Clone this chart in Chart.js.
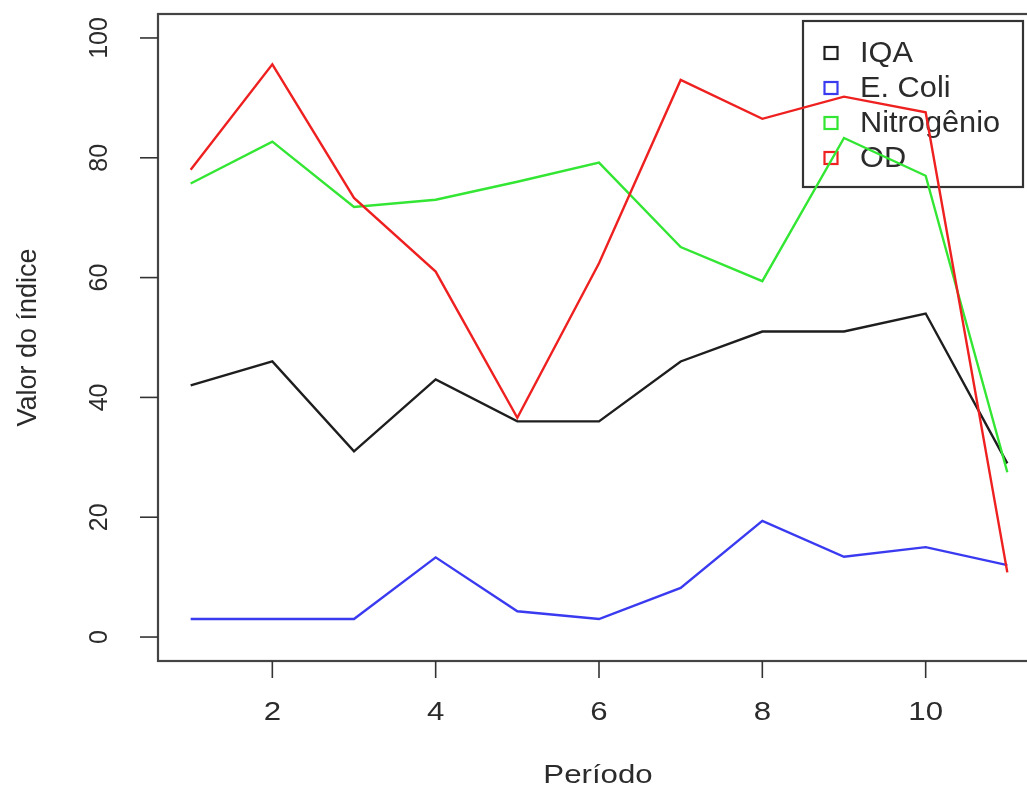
<!DOCTYPE html>
<html>
<head>
<meta charset="utf-8">
<script src="https://cdn.jsdelivr.net/npm/chart.js@4.4.1/dist/chart.umd.min.js"></script>
<style>
  html, body { margin: 0; padding: 0; background: #fff; overflow: hidden; }
  #wrap { position: relative; width: 1045px; height: 792px; }
</style>
</head>
<body>
<div id="wrap"><canvas id="c" width="1045" height="792"></canvas></div>
<script>
// Water-quality indices per period
const periods    = [1, 2, 3, 4, 5, 6, 7, 8, 9, 10, 11];
const iqa        = [42, 46, 31, 43, 36, 36, 46, 51, 51, 54, 29];
const ecoli      = [3, 3, 3, 13.3, 4.3, 3, 8.2, 19.4, 13.4, 15, 12];
const nitrogenio = [75.7, 82.7, 71.8, 73, 76, 79.2, 65.1, 59.4, 83.3, 77, 27.5];
const od         = [78, 95.6, 73.3, 61, 36.6, 62.4, 93, 86.5, 90.2, 87.6, 10.8];

const seriesNames  = ['IQA', 'E. Coli', 'Nitrogênio', 'OD'];
const seriesColors = ['#1e1e1e', '#3a3af0', '#33e633', '#ee2020'];
const xTicks = [2, 4, 6, 8, 10];
const yTicks = [0, 20, 40, 60, 80, 100];
const xTitle = 'Período';
const yTitle = 'Valor do índice';

const seriesValues = [iqa, ecoli, nitrogenio, od];
const datasets = seriesValues.map((vals, i) => ({
  label: seriesNames[i],
  data: periods.map((p, j) => ({ x: p, y: vals[j] })),
  borderColor: seriesColors[i],
  backgroundColor: seriesColors[i],
  borderWidth: 2.4,
  pointRadius: 0,
  tension: 0,
  fill: false,
  order: seriesValues.length - i
}));

const FONT = '"Liberation Sans", Arial, sans-serif';
const TEXT = '#2b2b2b';

function stretchedText(ctx, txt, x, y, sx) {
  ctx.save();
  ctx.translate(x, y);
  ctx.scale(sx, 1);
  ctx.fillText(txt, 0, 0);
  ctx.restore();
}

// Base-graphics style frame, ticks, titles and legend
const basePlot = {
  id: 'basePlot',
  beforeDatasetsDraw(chart) {
    const ctx = chart.ctx;
    ctx.save();
    // legend box (transparent, lines pass over it)
    ctx.strokeStyle = '#333';
    ctx.lineWidth = 2.2;
    ctx.strokeRect(803, 21, 220, 166);
    ctx.font = '29px ' + FONT;
    ctx.textBaseline = 'middle';
    ctx.textAlign = 'left';
    seriesNames.forEach((name, i) => {
      const cy = 53 + i * 35;
      ctx.strokeStyle = seriesColors[i];
      ctx.lineWidth = 2.2;
      ctx.strokeRect(824.5, cy - 6, 13, 12);
      ctx.fillStyle = TEXT;
      stretchedText(ctx, name, 860, cy + 1, 1.06);
    });
    ctx.restore();
  },
  afterDraw(chart) {
    const ctx = chart.ctx;
    const a = chart.chartArea;
    const xs = chart.scales.x, ys = chart.scales.y;
    ctx.save();
    ctx.strokeStyle = '#444';
    ctx.lineWidth = 2.2;
    ctx.strokeRect(a.left, a.top, a.right - a.left, a.bottom - a.top);

    ctx.fillStyle = TEXT;
    ctx.lineWidth = 1.6;
    ctx.strokeStyle = '#333';
    // x axis
    ctx.font = '26px ' + FONT;
    ctx.textAlign = 'center';
    ctx.textBaseline = 'middle';
    xTicks.forEach(v => {
      const px = xs.getPixelForValue(v);
      ctx.beginPath();
      ctx.moveTo(px, a.bottom);
      ctx.lineTo(px, a.bottom + 17);
      ctx.stroke();
      stretchedText(ctx, String(v), px, 713, 1.2);
    });
    stretchedText(ctx, xTitle, 598, 776, 1.2);

    // y axis
    ctx.font = '25px ' + FONT;
    yTicks.forEach(v => {
      const py = ys.getPixelForValue(v);
      ctx.beginPath();
      ctx.moveTo(a.left - 18, py);
      ctx.lineTo(a.left, py);
      ctx.stroke();
      ctx.save();
      ctx.translate(100, py);
      ctx.rotate(-Math.PI / 2);
      ctx.fillText(String(v), 0, 0);
      ctx.restore();
    });
    ctx.font = '27px ' + FONT;
    ctx.save();
    ctx.translate(29, (a.top + a.bottom) / 2);
    ctx.rotate(-Math.PI / 2);
    ctx.fillText(yTitle, 0, 0);
    ctx.restore();
    ctx.restore();
  }
};

new Chart(document.getElementById('c'), {
  type: 'line',
  data: { datasets },
  plugins: [basePlot],
  options: {
    responsive: false,
    animation: false,
    layout: { padding: { top: 14, right: 5, left: 0, bottom: 0 } },
    plugins: { legend: { display: false }, tooltip: { enabled: false } },
    scales: {
      x: {
        type: 'linear', min: 0.6, max: 11.4,
        ticks: { display: false },
        grid: { display: false },
        border: { display: false },
        afterFit(s) { s.height = 131; }
      },
      y: {
        type: 'linear', min: -4, max: 104,
        ticks: { display: false },
        grid: { display: false },
        border: { display: false },
        afterFit(s) { s.width = 158; }
      }
    }
  }
});
</script>
</body>
</html>
